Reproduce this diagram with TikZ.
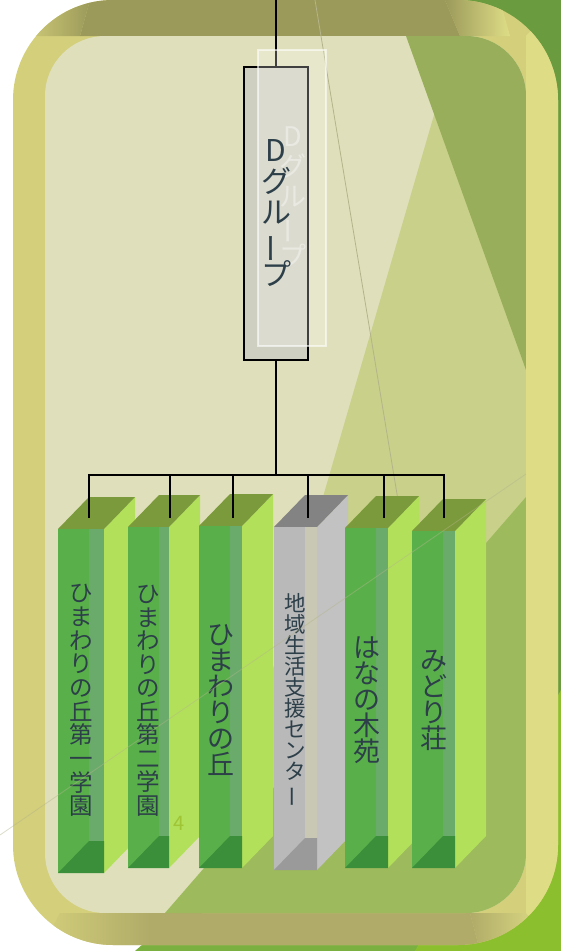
\documentclass[tikz,border=0pt]{standalone}
\usepackage{graphicx}
\usepackage{fontspec}
\usepackage{tikz}
\usetikzlibrary{positioning}
\newfontfamily\jpfont{Noto Sans CJK JP}
\newcommand{\VBar}{\rotatebox[origin=c]{90}{ー}}
\newcommand{\TateFont}[2]{\jpfont\fontsize{#1}{#2}\selectfont\lineskiplimit=-50pt}

\definecolor{LeafDark}{HTML}{6A9C3F}
\definecolor{LeafBright}{HTML}{8CBF2E}
\definecolor{LeafLow}{HTML}{7AB040}
\definecolor{FrameSide}{HTML}{D3CF7B}
\definecolor{FrameRight}{HTML}{DEDD86}
\definecolor{FrameTop}{HTML}{9C9A5A}
\definecolor{FrameBottom}{HTML}{B0AB68}
\definecolor{PanelBeige}{HTML}{DFDFBB}
\definecolor{PanelMid}{HTML}{C8D08A}
\definecolor{PanelDark}{HTML}{98AE5A}
\definecolor{PanelLow}{HTML}{9DBA5C}
\definecolor{StreakGray}{HTML}{B4B48A}
\definecolor{GroupFill}{HTML}{CFCFC1}
\definecolor{LabelInk}{HTML}{2D3F49}
\definecolor{PageGreen}{HTML}{9FC434}
\definecolor{GreenFront}{HTML}{59B04B}
\definecolor{GreenSide}{HTML}{B2E05B}
\definecolor{GreenTop}{HTML}{7B9A3B}
\definecolor{GreenBase}{HTML}{3B8F3A}
\definecolor{GreenSeen}{HTML}{6AAB6C}
\definecolor{GrayFront}{HTML}{B9B9B9}
\definecolor{GraySide}{HTML}{C2C2C2}
\definecolor{GrayTop}{HTML}{838383}
\definecolor{GrayBase}{HTML}{9A9A9A}
\definecolor{GraySeen}{HTML}{C8C8B4}

\tikzset{
	TreeLine/.style={line width=2.2pt, black, line cap=rect},
	TateLabel/.style={align=center, inner sep=0pt, text=LabelInk},
}

\begin{document}
\begin{tikzpicture}[x=1pt,y=-1pt]
			\pgfmathsetmacro{\DepthX}{31}
			\pgfmathsetmacro{\DepthY}{-32}
			\useasboundingbox (0,0) rectangle (561,951);
			\fill[white] (0,0) rectangle (561,951);
			\fill[LeafDark] (378,0) -- (561,0) -- (561,951) -- (300,951) -- cycle;
			\fill[LeafLow] (135,951) -- (150,938) -- (561,938) -- (561,951) -- cycle;
			\fill[LeafBright] (561,690) -- (561,951) -- (415,951) -- cycle;
			
			\begin{scope}
				\clip[rounded corners=100] (13,0) rectangle (558,945);
				\fill[FrameSide] (0,0) rectangle (561,951);
				\fill[FrameRight] (526,36) -- (561,0) -- (561,951) -- (526,913) -- cycle;
				\fill[FrameTop] (90,0) -- (445,0) -- (460,36) -- (80,36) -- cycle;
				\shade[left color=FrameSide, right color=FrameTop] (20,36) -- (60,0) -- (90,0) -- (80,36) -- cycle;
				\shade[left color=FrameTop, right color=FrameRight] (445,0) -- (500,0) -- (510,36) -- (460,36) -- cycle;
				\fill[FrameBottom] (150,913) -- (150,951) -- (480,951) -- (470,913) -- cycle;
				\shade[left color=FrameSide, right color=FrameBottom] (60,913) -- (40,951) -- (150,951) -- (150,913) -- cycle;
				\shade[left color=FrameBottom, right color=FrameRight] (470,913) -- (480,951) -- (545,951) -- (526,913) -- cycle;
			\end{scope}
			
			\begin{scope}
				\clip[rounded corners=60] (45,36) rectangle (526,913);
				\fill[PanelBeige] (45,36) rectangle (526,913);
				\fill[PanelMid] (457,36) -- (202,913) -- (526,913) -- (526,36) -- cycle;
				\fill[PanelDark] (406,36) -- (526,36) -- (526,370) -- cycle;
				\fill[PanelLow] (165,913) -- (526,497) -- (526,913) -- cycle;
			\end{scope}
			\draw[StreakGray, line width=0.8pt] (315,0) -- (398,500);
			
			\coordinate(TopEdge) at (276,0);
			\coordinate(BarLeft) at (89,475);
			\coordinate(BarRight) at (444,475);
			
			\node[draw, line width=2.4pt, fill=GroupFill, minimum width=64, minimum height=293, inner sep=0pt] (DGroup) at (276,213.5) {};
			\draw[TreeLine] (TopEdge) -- (DGroup.north);
			\filldraw[white, fill opacity=0.25, draw opacity=0.6, line width=1.5pt] (258,50) rectangle (326,346);
			\node[TateLabel, text=white, text opacity=0.4, font=\TateFont{27}{30}] (DGhost) at (292.5,197.5) {D\\グ\\ル\\\VBar\\プ};
			\node[TateLabel, font=\TateFont{30}{31}] (DLabel) at (DGroup.center) {D\\グ\\ル\\\VBar\\プ};
			
			\draw[TreeLine] (DGroup.south) -- (DGroup.south |- BarLeft);
			\draw[TreeLine] (BarLeft) -- (BarRight);
			
			\foreach \Left/\Right/\Top/\Bottom/\DropX/\Kind/\Size/\Pitch/\Label in {
				58/104/529/873/89/Green/23.5/23.7/{ひ\\ま\\わ\\り\\の\\丘\\第\\一\\学\\園},
				128/169/527/868/170/Green/23.5/23.5/{ひ\\ま\\わ\\り\\の\\丘\\第\\二\\学\\園},
				199/242/526/868/233/Green/27/26/{ひ\\ま\\わ\\り\\の\\丘},
				274/317/527/870/308/Gray/21.5/21/{地\\域\\生\\活\\支\\援\\セ\\ン\\タ\\\VBar},
				345/388/528/868/384/Green/27/26/{は\\な\\の\\木\\苑},
				412/455/531/868/444/Green/27/26/{み\\ど\\り\\荘}}{
				\fill[fill=\Kind Side] (\Right,\Top) -- ++(\DepthX,\DepthY) -- (\Right+\DepthX,\Bottom+\DepthY) -- (\Right,\Bottom) -- cycle;
				\fill[fill=\Kind Top] (\Left,\Top) -- ++(\DepthX,\DepthY) -- (\Right+\DepthX,\Top+\DepthY) -- (\Right,\Top) -- cycle;
				\fill[fill=\Kind Front] (\Left,\Top) rectangle (\Right,\Bottom);
				\fill[fill=\Kind Seen] (\Left+\DepthX,\Top) rectangle (\Right,\Bottom+\DepthY);
				\fill[fill=\Kind Base] (\Left,\Bottom) -- ++(\DepthX,\DepthY) -- (\Right,\Bottom+\DepthY) -- (\Right,\Bottom) -- cycle;
				\node[TateLabel, font=\TateFont{\Size}{\Pitch}] (Label\DropX) at ({(\Left+\Right)/2},700.5) {\Label};
				\coordinate(Roof) at (\DropX,517);
				\draw[TreeLine] (Roof |- BarLeft) -- (Roof);
			}
			
			\node[inner sep=0pt, text=PageGreen, font=\jpfont\fontsize{20}{20}\selectfont] (PageNo) at (179,823) {4};
			\draw[StreakGray, opacity=0.45, line width=0.8pt] (0,835) -- (526,474);
		\end{tikzpicture}
\end{document}
